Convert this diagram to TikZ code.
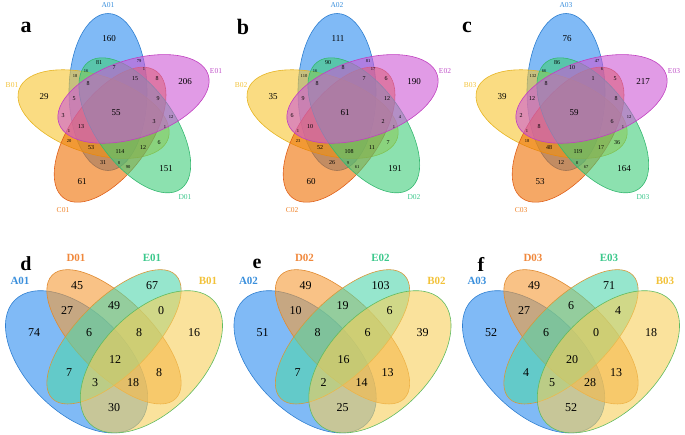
\documentclass[tikz,border=0pt]{standalone}
\usepackage{fontspec}
\setmainfont{Liberation Serif}
\definecolor{fA}{HTML}{2B8CF0}
\definecolor{fB}{HTML}{F7C52F}
\definecolor{fC}{HTML}{EE6E00}
\definecolor{fD}{HTML}{3FCD7A}
\definecolor{fE}{HTML}{CD58D5}
\definecolor{gD}{HTML}{F59A35}
\definecolor{gE}{HTML}{50D5AC}
\definecolor{gB}{HTML}{F7CF5A}
\definecolor{oA}{HTML}{2F7FD0}
\definecolor{oB}{HTML}{E6B422}
\definecolor{oC}{HTML}{E0601A}
\definecolor{oD}{HTML}{35B870}
\definecolor{oE}{HTML}{C040C0}
\definecolor{pD}{HTML}{E08A30}
\definecolor{pE}{HTML}{D8983A}
\definecolor{pB}{HTML}{60BB60}
\definecolor{tA}{HTML}{3A8FDC}
\definecolor{tB}{HTML}{F2C23A}
\definecolor{tC}{HTML}{EF8228}
\definecolor{tD}{HTML}{3CC88C}
\definecolor{tE}{HTML}{C050C8}
\definecolor{tDo}{HTML}{F0883C}
\begin{document}
\begin{tikzpicture}[x=1pt,y=-1pt,
  setshape/.style={fill opacity=0.6, draw opacity=1, line width=0.6pt},
  num/.style={inner sep=0pt, text=black},
  toplab/.style={inner sep=0pt, font=\fontsize{7.5}{7.5}\selectfont},
  botlab/.style={inner sep=0pt, font=\bfseries\fontsize{11}{11}\selectfont},
  botnum/.style={inner sep=0pt, text=black, font=\fontsize{12}{12}\selectfont},
  panel/.style={inner sep=0pt, font=\bfseries\fontsize{22}{22}\selectfont}]
\useasboundingbox (0,0) rectangle (685,434);

% ---------- top five-set diagrams ----------
\foreach \off in {0,229,458}{
  \begin{scope}[xshift=\off pt]
    \filldraw[setshape, fill=fA, draw=oA] (108,92) ellipse [x radius=39, y radius=78.5];
    \filldraw[setshape, fill=fB, draw=oB, rotate around={162:(93.6,114.1)}] (93.6,114.1) ellipse [x radius=78.5, y radius=39];
    \filldraw[setshape, fill=fC, draw=oC, rotate around={-126:(110.1,134.7)}] (110.1,134.7) ellipse [x radius=78.5, y radius=39];
    \filldraw[setshape, fill=fD, draw=oD, rotate around={-54:(134.8,125.3)}] (134.8,125.3) ellipse [x radius=78.5, y radius=39];
    \filldraw[setshape, fill=fE, draw=oE, rotate around={18:(133.5,98.9)}] (133.5,98.9) ellipse [x radius=78.5, y radius=39];
  \end{scope}
}

\foreach \x/\y/\s/\va/\vb/\vc [count=\k] in {
109/39/9/160/111/76, 99/63/6/81/90/86, 139/61/4.5/79/81/47, 114/68/6/7/8/10,
75/76/4.5/18/110/132, 86/71/4.5/16/16/66, 144/69/4.5/1/17/6, 135/79/6/15/7/1,
157/79/6/8/6/5, 185/82/9/206/190/217, 44/97/9/29/35/39, 88/84/6/8/8/8,
74/99/6/5/9/12, 158/99/6/9/12/8, 116/113/9/55/61/59, 63/116/6/3/6/2,
154/122/6/3/2/6, 171/117/4.5/12/4/12, 165/127/4.5/1/1/1, 69/131/4.5/1/1/1,
81/127/6/13/10/8, 69/141/4.5/20/23/18, 159/143/6/6/7/36, 91/148/6/53/52/48,
120/152/6/114/108/119, 143/148/6/12/11/17, 103/163/6/31/26/12, 119/163/4.5/8/9/8,
128/167/4.5/90/61/67, 166/169/9/151/191/164, 82/182/9/61/60/53}{
  \node[num, font=\fontsize{\s}{\s}\selectfont] (ta\k) at (\x,\y) {\va};
  \node[num, font=\fontsize{\s}{\s}\selectfont] (tb\k) at (\x+229,\y) {\vb};
  \node[num, font=\fontsize{\s}{\s}\selectfont] (tc\k) at (\x+458,\y) {\vc};
}

\foreach \off/\n in {0/1,229/2,458/3}{
  \node[toplab, text=tA] (labA\n) at (108+\off,5) {A0\n};
  \node[toplab, text=tB] (labB\n) at (12+\off,85) {B0\n};
  \node[toplab, text=tC] (labC\n) at (63+\off,210) {C0\n};
  \node[toplab, text=tD] (labD\n) at (185+\off,197) {D0\n};
  \node[toplab, text=tE] (labE\n) at (216+\off,71) {E0\n};
}
\node[panel] (pa) at (26,27) {a};
\node[panel] (pb) at (243,27) {b};
\node[panel] (pc) at (467,27) {c};

% ---------- bottom four-set diagrams ----------
\foreach \off in {0,228.5,457}{
  \begin{scope}[xshift=\off pt]
    \filldraw[setshape, fill=fA, draw=oA, rotate around={-45:(76.6,361.8)}] (76.6,361.8) ellipse [x radius=87.3, y radius=49.9];
    \filldraw[setshape, fill=gD, draw=pD, rotate around={-45:(114,336.8)}] (114,336.8) ellipse [x radius=87.3, y radius=37.4];
    \filldraw[setshape, fill=gE, draw=pE, rotate around={45:(114,336.8)}] (114,336.8) ellipse [x radius=87.3, y radius=37.4];
    \filldraw[setshape, fill=gB, draw=pB, rotate around={45:(151.4,361.8)}] (151.4,361.8) ellipse [x radius=87.3, y radius=49.9];
  \end{scope}
}

\foreach \x/\y/\vd/\ve/\vf [count=\k] in {
77/286/45/49/49, 152/286/67/103/71, 67/311/27/10/27, 114/306/49/19/6,
161/311/0/6/4, 34/333/74/51/52, 89/333/6/8/6, 139/333/8/6/0,
194/333/16/39/18, 115/360/12/16/20, 69/373/7/7/4, 159/373/8/13/13,
95/383/3/2/5, 133/383/18/14/28, 114/408/30/25/52}{
  \node[botnum] (bd\k) at (\x,\y) {\vd};
  \node[botnum] (be\k) at (\x+228.5,\y) {\ve};
  \node[botnum] (bf\k) at (\x+457,\y) {\vf};
}

\foreach \off/\n in {0/1,228.5/2,457/3}{
  \node[botlab, text=tA] (qA\n) at (20+\off,281) {A0\n};
  \node[botlab, text=tDo] (qD\n) at (76+\off,258) {D0\n};
  \node[botlab, text=tD] (qE\n) at (152+\off,258) {E0\n};
  \node[botlab, text=tB] (qB\n) at (208+\off,281) {B0\n};
}
\node[panel, font=\bfseries\fontsize{20}{20}\selectfont] (pd) at (26,264) {d};
\node[panel, font=\bfseries\fontsize{20}{20}\selectfont] (pe) at (257,264) {e};
\node[panel, font=\bfseries\fontsize{20}{20}\selectfont] (pf) at (481,264) {f};
\end{tikzpicture}
\end{document}
